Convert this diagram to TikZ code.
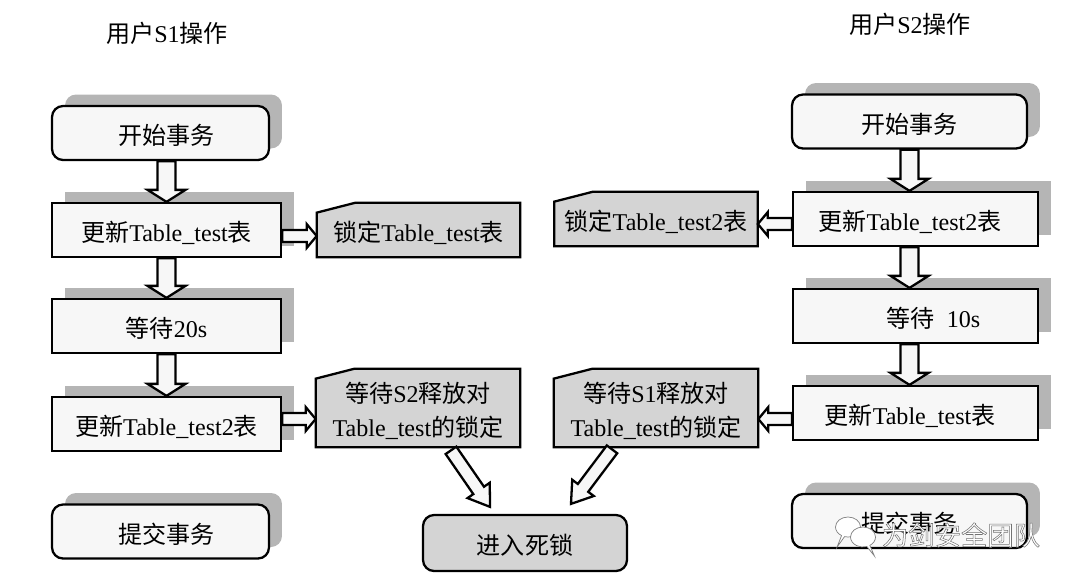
\documentclass[tikz,border=0pt]{standalone}
\usepackage{fontspec}
\setmainfont{Liberation Serif}
\newfontfamily\cjk{Noto Sans CJK SC}
\newcommand{\zh}[1]{{\cjk #1}}
\newcommand{\outlined}[1]{\special{pdf:code 2 Tr 0.3 w 0.45 G}#1\special{pdf:code 0 Tr 0 G}}
\usetikzlibrary{calc,backgrounds,shadows,shapes.callouts,shapes.geometric}
\definecolor{boxfill}{gray}{0.97}
\definecolor{tagfill}{gray}{0.83}
\definecolor{shadowfill}{gray}{0.71}
\tikzset{
  basebox/.style={draw,line width=1.3pt,fill=boxfill,inner sep=0pt,minimum height=1.08cm,align=center,
    text height=0.52cm,text depth=0.05cm,font=\fontsize{13.7}{19.3}\selectfont},
  plainbox/.style={basebox,copy shadow={shadow xshift=0.26cm,shadow yshift=0.23cm,draw=none,fill=shadowfill}},
  roundbox/.style={plainbox,rounded corners=2.2mm},
  tagbox/.style={inner sep=0pt,align=center,font=\fontsize{13.7}{19.3}\selectfont,
    append after command={\pgfextra{\begin{pgfonlayer}{background}
      \draw[line width=1.3pt,fill=tagfill,line join=miter] (\tikzlastnode.south west)
        -- ($(\tikzlastnode.north west)+(0,-0.2cm)$) -- ($(\tikzlastnode.north west)+(0.78cm,0)$)
        -- (\tikzlastnode.north east) -- (\tikzlastnode.south east) -- cycle;
    \end{pgfonlayer}}}},
  bigarrow/.style args={#1/#2/#3}{draw,line width=1.3pt,fill=boxfill,line join=miter,
    to path={($(\tikztostart)!#1!90:(\tikztotarget)$)
      -- ($(\tikztotarget)!#3!(\tikztostart)!#1!-90:(\tikztostart)$)
      -- ($(\tikztotarget)!#3!(\tikztostart)!#2!-90:(\tikztostart)$)
      -- (\tikztotarget)
      -- ($(\tikztotarget)!#3!(\tikztostart)!#2!90:(\tikztostart)$)
      -- ($(\tikztotarget)!#3!(\tikztostart)!#1!90:(\tikztostart)$)
      -- ($(\tikztostart)!#1!-90:(\tikztotarget)$) -- cycle}},
  downarrow/.style={bigarrow=0.18cm/0.38cm/0.24cm},
  sidearrow/.style={bigarrow=0.12cm/0.24cm/0.2cm},
  slantarrow/.style={bigarrow=0.13cm/0.27cm/0.4cm},
  titlenode/.style={inner sep=0pt,font=\fontsize{13.7}{19.3}\selectfont},
  bubble/.style={draw=gray,line width=0.4pt,fill=white,ellipse callout,minimum width=0.5cm,minimum height=0.4cm,inner sep=0pt,
    callout relative pointer={(-0.12cm,-0.22cm)}}
}
\begin{document}
\begin{tikzpicture}[x=0.02cm,y=-0.02cm]
\useasboundingbox (0,0) rectangle (1074,582);
\draw (167,33) node[titlenode](titleone) {\zh{用户}S1\zh{操作}};
\draw (910,24) node[titlenode](titletwo) {\zh{用户}S2\zh{操作}};

\draw (160.5,133) node[roundbox,minimum width=4.34cm](startone) {\hspace*{0.24cm}\zh{开始事务}};
\draw (166.5,230) node[plainbox,minimum width=4.58cm](updone) {\zh{更新}Table\_test\zh{表}};
\draw (166.5,326) node[plainbox,minimum width=4.58cm](waitone) {\zh{等待}20s};
\draw (166.5,424) node[plainbox,minimum width=4.58cm](updtwo) {\zh{更新}Table\_test2\zh{表}};
\draw (160.5,531.5) node[roundbox,minimum width=4.34cm](endone) {\hspace*{0.24cm}\zh{提交事务}};

\draw (418.5,230) node[tagbox,minimum width=4.06cm,minimum height=1.08cm,text height=0.52cm,text depth=0.05cm](lockone) {\zh{锁定}Table\_test\zh{表}};
\draw (418,408) node[tagbox,minimum width=4.08cm,minimum height=1.56cm](waitlockone) {\rule{0pt}{0.53cm}\zh{等待}S2\zh{释放对}\\Table\_test\zh{的锁定}};

\draw (525,543) node[basebox,rounded corners=2.2mm,fill=tagfill,minimum width=4.08cm,minimum height=1.12cm](deadlock) {\zh{进入死锁}};

\draw (656,408) node[tagbox,minimum width=4.08cm,minimum height=1.56cm](waitlocktwo) {\rule{0pt}{0.53cm}\zh{等待}S1\zh{释放对}\\Table\_test\zh{的锁定}};
\draw (656,219) node[tagbox,minimum width=4.06cm,minimum height=1.08cm,text height=0.52cm,text depth=0.05cm](locktwo) {\zh{锁定}Table\_test2\zh{表}};

\draw (909.5,121.5) node[roundbox,minimum width=4.7cm](starttwo) {\zh{开始事务}};
\draw (915.5,219) node[plainbox,minimum width=4.9cm](updthree) {\zh{更新}Table\_test2\zh{表}\hspace*{0.22cm}};
\draw (915.5,316) node[plainbox,minimum width=4.9cm](waittwo) {\hspace*{0.72cm}\zh{等待}\hspace{0.5em}10s};
\draw (915.5,413) node[plainbox,minimum width=4.9cm](updfour) {\zh{更新}Table\_test\zh{表}\hspace*{0.22cm}};
\draw (909.5,521) node[roundbox,minimum width=4.7cm](endtwo) {\zh{提交事务}};

\draw[downarrow] (updone.north |- startone.south) to (updone.north);
\draw[downarrow] (updone.south) to (waitone.north);
\draw[downarrow] (waitone.south) to (updtwo.north);
\draw[downarrow] (starttwo.south) to (starttwo.south |- updthree.north);
\draw[downarrow] ([xshift=-0.12cm]updthree.south) to ([xshift=-0.12cm]waittwo.north);
\draw[downarrow] ([xshift=-0.12cm]waittwo.south) to ([xshift=-0.12cm]updfour.north);

\draw[sidearrow] ([yshift=-0.12cm]updone.east) to ([yshift=-0.12cm]lockone.west);
\draw[sidearrow] ([yshift=0.1cm]updtwo.east) to ([yshift=0.1cm]updtwo.east -| waitlockone.west);
\draw[sidearrow] ([yshift=-0.1cm]updthree.west) to ([yshift=-0.1cm]locktwo.east);
\draw[sidearrow] ([yshift=-0.12cm]updfour.west) to ([yshift=-0.12cm]updfour.west -| waitlocktwo.east);

\draw[slantarrow] ([xshift=0.66cm,yshift=-0.06cm]waitlockone.south) to ([xshift=-0.7cm,yshift=0.14cm]deadlock.north);
\draw[slantarrow] ([xshift=-0.88cm,yshift=-0.04cm]waitlocktwo.south) to ([xshift=0.92cm,yshift=0.2cm]deadlock.north);

\draw (848,527) node[bubble](bubbleone) {};
\draw (863,537) node[bubble,callout relative pointer={(0.12cm,-0.2cm)}](bubbletwo) {};
\draw (961,535) node[inner sep=0pt,text=white,font=\fontsize{15}{15}\selectfont\cjk](watermark) {\outlined{为剑安全团队}};
\end{tikzpicture}
\end{document}
